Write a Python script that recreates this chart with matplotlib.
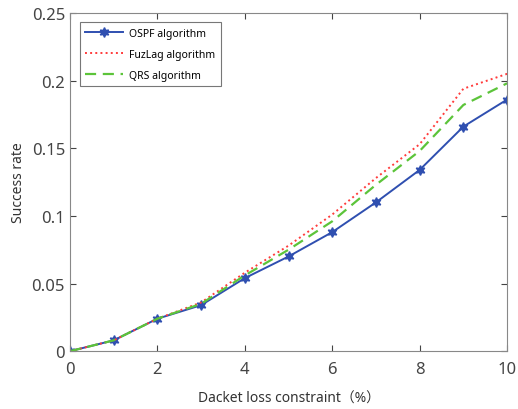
import matplotlib
matplotlib.use("Agg")
import matplotlib.pyplot as plt

plt.rcParams['font.family'] = ['Noto Sans', 'Noto Sans CJK SC', 'DejaVu Sans']

# packet loss constraint (%)
x_vals = [0, 1, 2, 3, 4, 5, 6, 7, 8, 9, 10]
ospf = [0, 0.008, 0.024, 0.034, 0.054, 0.070, 0.088, 0.110, 0.134, 0.166, 0.186]
fuzlag = [0, 0.008, 0.024, 0.036, 0.058, 0.078, 0.101, 0.128, 0.153, 0.194, 0.205]
qrs = [0, 0.008, 0.024, 0.035, 0.056, 0.075, 0.096, 0.123, 0.148, 0.182, 0.198]

fig = plt.figure(figsize=(5.18, 4.10), dpi=100)
ax = fig.add_axes([0.135, 0.141, 0.844, 0.825])

ax.plot(x_vals, ospf, color="#2f4fb0", marker=(6, 1, 0), markersize=7, linewidth=1.4,
        label="OSPF algorithm")
ax.plot(x_vals, fuzlag, color="#ff3b3b", linestyle=":", linewidth=1.4,
        label="FuzLag algorithm")
ax.plot(x_vals, qrs, color="#5cc43a", linestyle=(0, (5, 3)), linewidth=1.6,
        label="QRS algorithm")

ax.set_xlim(0, 10)
ax.set_ylim(0, 0.25)
ax.set_xticks([0, 2, 4, 6, 8, 10])
ax.set_yticks([0, 0.05, 0.1, 0.15, 0.2, 0.25])
ax.set_yticklabels(["0", "0.05", "0.1", "0.15", "0.2", "0.25"])
ax.tick_params(direction="in", top=True, right=True, labelsize=12,
               colors="#444444", length=4)
ax.tick_params(axis="x", pad=7)
for s in ax.spines.values():
    s.set_color("#888888")

ax.set_xlabel("Dacket loss constraint（%）", fontsize=10, color="#333333", labelpad=10)
ax.set_ylabel("Success rate", fontsize=10, color="#333333")

leg = ax.legend(loc="upper left", bbox_to_anchor=(0.022, 0.973), borderaxespad=0,
                fontsize=7.5, frameon=True, fancybox=False,
                edgecolor="#555555", handlelength=3.6, handletextpad=0.6,
                borderpad=0.55, labelspacing=0.95)
leg.get_frame().set_linewidth(0.8)

fig.savefig("out.png", dpi=100)
